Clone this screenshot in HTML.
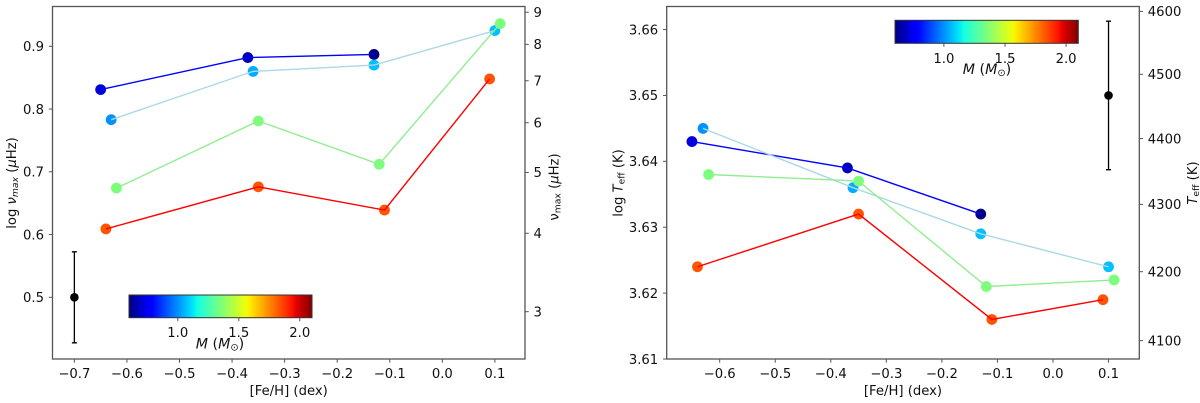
<!DOCTYPE html>
<html>
<head>
<meta charset="utf-8">
<title>Asteroseismic trends with metallicity</title>
<style>
html,body{margin:0;padding:0;background:#fff;}
svg{display:block;font-family:"DejaVu Sans","Liberation Sans",sans-serif;filter:blur(0.3px);}
text{fill:#111;}
</style>
</head>
<body>
<svg id="figure" xmlns="http://www.w3.org/2000/svg" width="1200" height="403" viewBox="0 0 1200 403"></svg>
<script>
// ---------- data: shared ----------
const blueFeH = [-0.65, -0.37, -0.13];
const lightBlueFeH = [-0.63, -0.36, -0.13, 0.10];
const greenFeH = [-0.62, -0.35, -0.12, 0.11];
const redFeH = [-0.64, -0.35, -0.11, 0.09];

const blueMass = [0.72, 0.67, 0.60];
const lightBlueMass = [1.00, 1.04, 1.07, 1.07];
const greenMass = [1.35, 1.35, 1.35, 1.35];
const redMass = [1.83, 1.83, 1.83, 1.83];

// ---------- data: left panel (log numax) ----------
const blueLogNumax = [0.831, 0.882, 0.887];
const lightBlueLogNumax = [0.783, 0.860, 0.870, 0.925];
const greenLogNumax = [0.674, 0.781, 0.712, 0.936];
const redLogNumax = [0.609, 0.676, 0.639, 0.848];
const leftErrFeH = [-0.7];
const leftErrValue = [0.5];
const leftErrSize = [0.0725];
const leftXTicks = [-0.7, -0.6, -0.5, -0.4, -0.3, -0.2, -0.1, 0.0, 0.1];
const leftYTicks = [0.5, 0.6, 0.7, 0.8, 0.9];
const leftRightTicks = [3, 4, 5, 6, 7, 8, 9];

// ---------- data: right panel (log Teff) ----------
const blueLogTeff = [3.643, 3.639, 3.632];
const lightBlueLogTeff = [3.645, 3.636, 3.629, 3.624];
const greenLogTeff = [3.638, 3.637, 3.621, 3.622];
const redLogTeff = [3.624, 3.632, 3.616, 3.619];
const rightErrFeH = [0.1];
const rightErrValue = [3.65];
const rightErrSize = [0.01127];
const rightXTicks = [-0.6, -0.5, -0.4, -0.3, -0.2, -0.1, 0.0, 0.1];
const rightYTicks = [3.61, 3.62, 3.63, 3.64, 3.65, 3.66];
const rightRightTicks = [4100, 4200, 4300, 4400, 4500, 4600];

// ---------- data: colour bar ----------
const massRange = [0.6, 2.1];
const massTicks = [1.0, 1.5, 2.0];

// ---------- helpers ----------
const NS = 'http://www.w3.org/2000/svg';
const svg = document.getElementById('figure');
const FS = 13.2;
const INK = '#555';

function mk(tag, props, parent) {
  const el = document.createElementNS(NS, tag);
  for (const k in props) el.setAttribute(k, props[k]);
  (parent || svg).appendChild(el);
  return el;
}
function scale(d0, d1, r0, r1) {
  return v => r0 + (v - d0) / (d1 - d0) * (r1 - r0);
}
function interp(t, pts) {
  for (let i = 1; i < pts.length; i++) {
    if (t <= pts[i][0]) {
      const a = pts[i - 1], b = pts[i];
      return a[1] + (t - a[0]) / (b[0] - a[0]) * (b[1] - a[1]);
    }
  }
  return pts[pts.length - 1][1];
}
function jet(t) {
  const r = interp(t, [[0, 0], [0.35, 0], [0.66, 1], [0.89, 1], [1, 0.5]]);
  const g = interp(t, [[0, 0], [0.125, 0], [0.375, 1], [0.64, 1], [0.91, 0], [1, 0]]);
  const b = interp(t, [[0, 0.5], [0.11, 1], [0.34, 1], [0.65, 0], [1, 0]]);
  return 'rgb(' + Math.round(r * 255) + ',' + Math.round(g * 255) + ',' + Math.round(b * 255) + ')';
}
function massColor(m) {
  return jet((m - massRange[0]) / (massRange[1] - massRange[0]));
}
function fmt(v, digits) {
  return (v < 0 ? '\u2212' : '') + Math.abs(v).toFixed(digits);
}
// rich label: parts = [text, italic?, subscript?]
function rich(parent, parts, size) {
  let wasSub = false;
  parts.forEach(p => {
    const t = mk('tspan', {}, parent);
    t.textContent = p[0];
    if (p[1]) t.setAttribute('font-style', 'italic');
    if (p[2]) {
      t.setAttribute('font-size', size * 0.7);
      t.setAttribute('dy', size * 0.15);
    } else if (wasSub) {
      t.setAttribute('dy', -size * 0.15);
    }
    wasSub = !!p[2];
  });
}

function drawSeries(group, name, color, xs, ys, masses, X, Y) {
  xs.forEach((x, i) => {
    const c = mk('circle', { cx: X(x), cy: Y(ys[i]), r: 5.4, fill: massColor(masses[i]) }, group);
    
    
  });
  const pts = xs.map((x, i) => X(x).toFixed(2) + ',' + Y(ys[i]).toFixed(2)).join(' ');
  const line = mk('polyline', { points: pts, fill: 'none', stroke: color, 'stroke-width': 1.4 }, group);
  
  
}

function drawErr(group, x, y, e, X, Y) {
  const px = X(x), top = Y(y + e), bot = Y(y - e);
  const bar = mk('path', {
    d: 'M' + px + ' ' + top + 'V' + bot + 'M' + (px - 2.5) + ' ' + top + 'H' + (px + 2.5) + 'M' + (px - 2.5) + ' ' + bot + 'H' + (px + 2.5),
    stroke: '#000', 'stroke-width': 1.3, fill: 'none'
  }, group);
  
  
  const dot = mk('circle', { cx: px, cy: Y(y), r: 4.3, fill: '#000' }, group);
  
  
}

function drawFrame(g, L, R, T, B) {
  const f = mk('rect', { x: L, y: T, width: R - L, height: B - T, fill: 'none', stroke: INK, 'stroke-width': 1.3 }, g);
  
  
}

function xAxis(g, ticks, X, B) {
  ticks.forEach(v => {
    const px = X(v);
    const tick = mk('line', { x1: px, x2: px, y1: B, y2: B + 3.7, stroke: INK, 'stroke-width': 1 }, g);
    
    
    const t = mk('text', { x: px, y: B + 19, 'text-anchor': 'middle', 'font-size': FS }, g);
    t.textContent = fmt(v, 1);
    
    
  });
}
function yAxisLeft(g, ticks, Y, L, digits) {
  ticks.forEach(v => {
    const py = Y(v);
    const tick = mk('line', { x1: L - 3.7, x2: L, y1: py, y2: py, stroke: INK, 'stroke-width': 1 }, g);
    
    
    const t = mk('text', { x: L - 8.5, y: py + 4.8, 'text-anchor': 'end', 'font-size': FS }, g);
    t.textContent = v.toFixed(digits);
    
    
  });
}
function yAxisRight(g, ticks, Y, R) {
  ticks.forEach(v => {
    const py = Y(Math.log10(v));
    const tick = mk('line', { x1: R, x2: R + 3.7, y1: py, y2: py, stroke: INK, 'stroke-width': 1 }, g);
    
    
    const t = mk('text', { x: R + 8.5, y: py + 4.8, 'font-size': FS }, g);
    t.textContent = String(v);
    
    
  });
}
function rotLabel(g, parts, x, y, name) {
  const t = mk('text', { transform: 'translate(' + x + ',' + y + ') rotate(-90)', 'text-anchor': 'middle', 'font-size': FS }, g);
  rich(t, parts, FS);
  
  
}

let gradCount = 0;
function colorbar(g, x0, x1, y0, y1, labelX, labelY) {
  const defs = mk('defs', {}, g);
  const id = 'jet' + (gradCount++);
  const grad = mk('linearGradient', { id: id, x1: 0, x2: 1, y1: 0, y2: 0 }, defs);
  for (let i = 0; i <= 64; i++) {
    mk('stop', { offset: i / 64, 'stop-color': jet(i / 64) }, grad);
  }
  const bar = mk('rect', { x: x0, y: y0, width: x1 - x0, height: y1 - y0, fill: 'url(#' + id + ')', stroke: '#333', 'stroke-width': 1 }, g);
  
  
  const C = scale(massRange[0], massRange[1], x0, x1);
  massTicks.forEach(m => {
    const tick = mk('line', { x1: C(m), x2: C(m), y1: y1, y2: y1 + 3.5, stroke: INK, 'stroke-width': 1 }, g);
    
    
    const t = mk('text', { x: C(m), y: y1 + 19.5, 'text-anchor': 'middle', 'font-size': FS }, g);
    t.textContent = m.toFixed(1);
    
    
  });
  const lab = mk('text', { x: labelX, y: labelY, 'text-anchor': 'middle', 'font-size': 14.2 }, g);
  rich(lab, [['M', true], [' (', false], ['M', true], ['\u2299', false, true], [')', false]], 14.2);
  
  
}

// ---------- left panel ----------
const leftPanel = mk('g', {});


const LB = { L: 52.5, R: 525, T: 6.5, B: 359 };
const XL = scale(-0.7416, 0.1573, LB.L, LB.R);
const YL = scale(0.4017, 0.9634, LB.B, LB.T);
drawSeries(leftPanel, 'blue-series', '#0000ff', blueFeH, blueLogNumax, blueMass, XL, YL);
drawSeries(leftPanel, 'lightblue-series', '#add8e6', lightBlueFeH, lightBlueLogNumax, lightBlueMass, XL, YL);
drawSeries(leftPanel, 'green-series', '#90ee90', greenFeH, greenLogNumax, greenMass, XL, YL);
drawSeries(leftPanel, 'red-series', '#ff0000', redFeH, redLogNumax, redMass, XL, YL);
drawErr(leftPanel, leftErrFeH[0], leftErrValue[0], leftErrSize[0], XL, YL);
colorbar(leftPanel, 129, 312, 295, 317.7, 220, 348.5);
drawFrame(leftPanel, LB.L, LB.R, LB.T, LB.B);
xAxis(leftPanel, leftXTicks, XL, LB.B);
yAxisLeft(leftPanel, leftYTicks, YL, LB.L, 1);
yAxisRight(leftPanel, leftRightTicks, YL, LB.R);
const leftXTitle = mk('text', { x: 288.7, y: 395, 'text-anchor': 'middle', 'font-size': FS }, leftPanel);
leftXTitle.textContent = '[Fe/H] (dex)';


rotLabel(leftPanel, [['log ', false], ['\u03BD', true], ['max', true, true], [' (', false], ['\u03BC', true], ['Hz)', false]], 16, 183, 'y-axis-title');
rotLabel(leftPanel, [['\u03BD', false], ['max', false, true], [' (', false], ['\u03BC', true], ['Hz)', false]], 558.5, 187, 'secondary-y-axis-title');

// ---------- right panel ----------
const rightPanel = mk('g', {});


const RB = { L: 666.7, R: 1139.3, T: 6.5, B: 359 };
const XR = scale(-0.6954, 0.1554, RB.L, RB.R);
const YR = scale(3.61, 3.6635, RB.B, RB.T);
drawSeries(rightPanel, 'blue-series', '#0000ff', blueFeH, blueLogTeff, blueMass, XR, YR);
drawSeries(rightPanel, 'lightblue-series', '#add8e6', lightBlueFeH, lightBlueLogTeff, lightBlueMass, XR, YR);
drawSeries(rightPanel, 'green-series', '#90ee90', greenFeH, greenLogTeff, greenMass, XR, YR);
drawSeries(rightPanel, 'red-series', '#ff0000', redFeH, redLogTeff, redMass, XR, YR);
drawErr(rightPanel, rightErrFeH[0], rightErrValue[0], rightErrSize[0], XR, YR);
colorbar(rightPanel, 895, 1078.3, 20.3, 43.3, 987, 74);
drawFrame(rightPanel, RB.L, RB.R, RB.T, RB.B);
xAxis(rightPanel, rightXTicks, XR, RB.B);
yAxisLeft(rightPanel, rightYTicks, YR, RB.L, 2);
yAxisRight(rightPanel, rightRightTicks, YR, RB.R);
const rightXTitle = mk('text', { x: 903, y: 395, 'text-anchor': 'middle', 'font-size': FS }, rightPanel);
rightXTitle.textContent = '[Fe/H] (dex)';


rotLabel(rightPanel, [['log ', false], ['T', true], ['eff', false, true], [' (K)', false]], 622.5, 183, 'y-axis-title');
rotLabel(rightPanel, [['T', true], ['eff', false, true], [' (K)', false]], 1197, 183, 'secondary-y-axis-title');
</script>
</body>
</html>
